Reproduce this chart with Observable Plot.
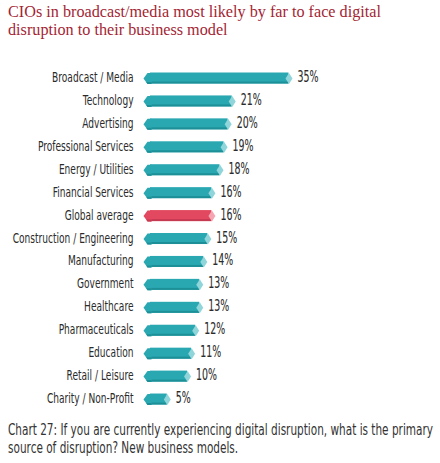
<!DOCTYPE html>
<html><head><meta charset="utf-8">
<script src="https://cdn.jsdelivr.net/npm/d3@7"></script>
<script src="https://cdn.jsdelivr.net/npm/@observablehq/plot@0.6"></script>
<style>
body{margin:0;background:#fff;width:440px;overflow:hidden}
#title{font-family:"Liberation Serif",serif;color:#a31f34;font-size:17.5px;line-height:18px;padding:2px 0 0 8px;height:46px;box-sizing:border-box}
#cap{font-family:"DejaVu Sans",sans-serif;color:#333;font-size:15px;line-height:18px;padding:3px 0 0 8px}
.ln{white-space:nowrap;display:inline-block;transform-origin:0 0}
#chart svg{display:block}
</style></head><body>
<div id="title"><span class="ln" data-w="373">CIOs in broadcast/media most likely by far to face digital</span><br><span class="ln">disruption to their business model</span></div>
<div id="chart"></div>
<div id="cap"><span class="ln" data-w="425">Chart 27: If you are currently experiencing digital disruption, what is the primary</span><br><span class="ln">source of disruption? New business models.</span></div>
<script>
const categories = ["Broadcast / Media","Technology","Advertising","Professional Services","Energy / Utilities","Financial Services","Global average","Construction / Engineering","Manufacturing","Government","Healthcare","Pharmaceuticals","Education","Retail / Leisure","Charity / Non-Profit"];
const values = [35,21,20,19,18,16,16,15,14,13,13,12,11,10,5];
const highlight = "Global average";
const data = categories.map((c,i)=>({cat:c, v:values[i], hl:c===highlight}));
const main = d => d.hl ? "#e2485f" : "#2aa8b2";
const dark = d => d.hl ? "#c53a51" : "#1d8f97";
const light = d => d.hl ? "#f5a5b2" : "#8fd5da";
const leftCap = {draw(ctx){ctx.moveTo(-7,0);ctx.lineTo(-3,-5.5);ctx.lineTo(1,-5.5);ctx.lineTo(1,5.5);ctx.lineTo(-3,5.5);ctx.closePath();}};
const leftCapDark = {draw(ctx){ctx.moveTo(-4.3,3.5);ctx.lineTo(1,3.5);ctx.lineTo(1,5.5);ctx.lineTo(-3,5.5);ctx.closePath();}};
const tip = {draw(ctx){ctx.moveTo(0,0);ctx.lineTo(-3.5,-5.5);ctx.lineTo(-7,0);ctx.lineTo(-3.5,5.5);ctx.closePath();}};
const FONT = '"DejaVu Sans",sans-serif';
const step = 22.93, c0 = 32;
const chart = Plot.plot({
  width: 440, height: 372,
  marginLeft: 143, marginRight: 0, marginTop: 0, marginBottom: 0,
  style: {fontFamily: FONT, fontSize: "14px", color: "#333", background: "#fff"},
  x: {domain: [0,35], range: [150,292], axis: null},
  y: {domain: categories, range: [c0-step/2, c0+14*step+step/2], padding: 0, round: false, label: null},
  marks: [
    Plot.axisY({tickSize: 0, tickPadding: 10, fontSize: 14, fill: "#2b2b2b", stroke: "#2b2b2b", strokeWidth: 0.3, label: null, dy: 3.5}),
    Plot.barX(data, {x1: 0, x2: "v", y: "cat", fill: main, insetTop: (step-11)/2, insetBottom: (step-11)/2, insetRight: 3.5}),
    Plot.barX(data, {x1: 0, x2: "v", y: "cat", fill: dark, insetTop: (step-11)/2+9, insetBottom: (step-11)/2, insetRight: 3.5}),
    Plot.dot(data, {x: 0, y: "cat", symbol: leftCap, fill: main, r: 5}),
    Plot.dot(data, {x: 0, y: "cat", symbol: leftCapDark, fill: dark, r: 5}),
    Plot.dot(data, {x: "v", y: "cat", symbol: tip, fill: light, r: 5}),
    Plot.text(data, {x: "v", y: "cat", text: d => d.v + "%", dx: 5, dy: 3.5, textAnchor: "start", fill: "#2b2b2b", stroke: "#2b2b2b", strokeWidth: 0.12, fontSize: 15.5})
  ]
});
document.getElementById("chart").appendChild(chart);

// condense texts horizontally to match the narrow typeface of the original
function condense(els, f){
  els.forEach(el => {
    const tx = +el.getAttribute("x") || 0, ty = +el.getAttribute("y") || 0;
    el.removeAttribute("x"); el.removeAttribute("y");
    el.setAttribute("transform", (el.getAttribute("transform") || "") + ` translate(${tx},${ty}) scale(${f},1)`);
  });
}
const allText = Array.from(chart.querySelectorAll("text"));
const ref = allText.find(t => t.textContent === "Construction / Engineering");
const fLab = ref ? 121 / ref.getComputedTextLength() : 0.65;
const valText = allText.filter(t => /%$/.test(t.textContent));
const ref2 = valText.find(t => t.textContent === "35%");
const fVal = ref2 ? 21 / ref2.getComputedTextLength() : 0.6;
condense(allText.filter(t => !/%$/.test(t.textContent)), fLab);
condense(valText, fVal);

// html lines
for (const box of [document.getElementById("title"), document.getElementById("cap")]) {
  const lines = box.querySelectorAll(".ln");
  const f = +lines[0].dataset.w / lines[0].getBoundingClientRect().width;
  lines.forEach(l => l.style.transform = `scaleX(${f})`);
}
</script>
</body></html>
